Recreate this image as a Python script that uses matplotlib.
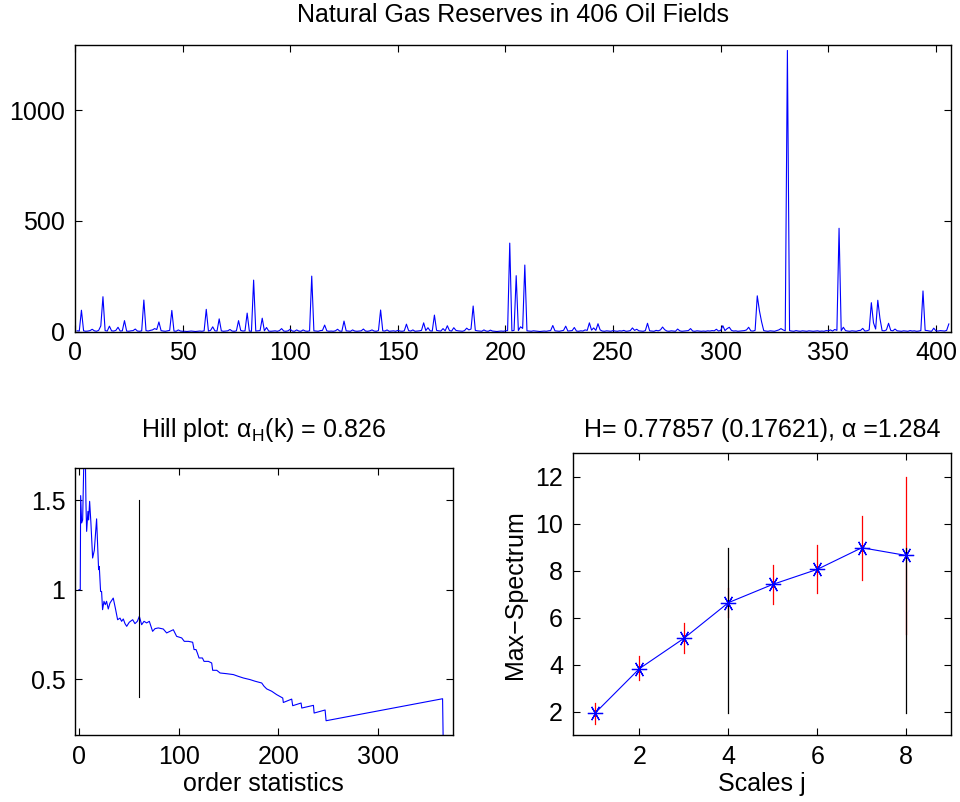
import numpy as np
import matplotlib
matplotlib.use('Agg')
import matplotlib.pyplot as plt

plt.rcParams['font.family'] = ['Liberation Sans', 'DejaVu Sans']
plt.rcParams['font.size'] = 18
plt.rcParams['axes.unicode_minus'] = True

# gas reserves of the 406 oil fields
reserves = [
    4, 3, 97, 4, 2, 3, 5, 11, 4, 2,
    6, 26, 158, 5, 3, 25, 4, 3, 6, 20,
    3, 4, 50, 3, 2, 4, 5, 12, 3, 2,
    4, 143, 5, 3, 6, 8, 14, 10, 44, 5,
    3, 2, 4, 6, 96, 3, 2, 8, 3, 2,
    2, 1, 2, 3, 2, 1, 2, 3, 2, 4,
    101, 3, 6, 22, 4, 3, 58, 4, 2, 3,
    4, 10, 3, 2, 4, 50, 6, 3, 4, 84,
    3, 2, 233, 3, 4, 5, 61, 4, 19, 3,
    2, 3, 4, 2, 5, 14, 3, 2, 4, 11,
    3, 2, 8, 3, 2, 8, 3, 2, 4, 251,
    4, 3, 2, 5, 6, 30, 4, 2, 3, 2,
    4, 11, 3, 2, 48, 4, 3, 2, 8, 3,
    2, 3, 4, 12, 3, 2, 4, 8, 3, 2,
    5, 98, 4, 3, 8, 2, 3, 4, 2, 6,
    3, 2, 4, 34, 5, 3, 8, 2, 3, 4,
    6, 40, 5, 18, 4, 3, 75, 6, 4, 3,
    14, 4, 27, 5, 3, 18, 6, 4, 3, 2,
    5, 16, 8, 12, 116, 6, 4, 3, 2, 8,
    3, 2, 7, 3, 2, 1, 2, 3, 2, 4,
    5, 400, 4, 6, 253, 5, 22, 15, 301, 4,
    3, 2, 4, 3, 2, 1, 2, 3, 2, 4,
    5, 28, 4, 3, 2, 4, 6, 25, 3, 4,
    5, 19, 3, 2, 4, 3, 8, 6, 40, 7,
    17, 6, 36, 8, 3, 2, 4, 3, 2, 5,
    3, 2, 4, 3, 6, 2, 3, 5, 17, 6,
    11, 4, 3, 2, 5, 38, 4, 3, 2, 6,
    4, 8, 21, 9, 3, 2, 4, 3, 2, 12,
    4, 2, 3, 4, 5, 14, 3, 2, 4, 3,
    2, 3, 2, 4, 3, 5, 4, 11, 3, 6,
    27, 5, 14, 20, 6, 3, 4, 2, 3, 4,
    5, 8, 20, 4, 3, 6, 162, 95, 45, 5,
    3, 2, 4, 3, 2, 5, 8, 14, 8, 4,
    1270, 5, 3, 2, 5, 3, 2, 4, 3, 2,
    4, 3, 2, 3, 4, 2, 3, 2, 5, 4,
    8, 3, 10, 6, 467, 4, 20, 5, 3, 2,
    4, 3, 2, 5, 6, 15, 3, 4, 8, 131,
    40, 12, 142, 60, 5, 4, 8, 38, 6, 4,
    12, 4, 3, 2, 4, 3, 2, 5, 3, 4,
    2, 3, 5, 184, 6, 5, 3, 2, 16, 4,
    3, 5, 4, 3, 6, 35,
]
field_no = list(range(1, len(reserves) + 1))

# Hill plot: order statistic k and Hill estimate
hill_k = [0.0, 1.3, 1.7, 2.7, 3.7, 5.0, 6.4, 7.0, 7.7, 9.0, 9.7, 10.7, 12.0, 13.7,
          15.4, 17.7, 19.7, 20.4, 21.7, 22.7, 23.7, 25.1, 26.4, 27.7, 29.4, 31.1,
          34.4, 36.5, 38.8, 41.2, 42.8, 44.5, 46.2, 47.9, 50.5, 53.9, 56.2, 58.6,
          60.6, 62.9, 65.3, 67.9, 70.6, 73.9, 76.3, 79.6, 84.6, 88.0, 91.3, 94.7,
          98.0, 103.1, 105.7, 109.8, 114.1, 115.5, 117.5, 118.8, 120.5, 123.9,
          125.5, 129.9, 133.2, 134.2, 138.3, 141.6, 148.3, 155.0, 160.0, 165.0,
          171.7, 176.7, 183.4, 185.7, 188.4, 193.4, 198.4, 204.5, 205.1, 213.5,
          214.5, 222.9, 223.6, 235.3, 236.0, 247.0, 248.0, 364.9, 365.5]
hill_alpha = [1.0, 1.0, 1.526, 1.373, 1.39, 1.75, 1.75, 1.485, 1.326, 1.438, 1.39,
              1.494, 1.373, 1.177, 1.22, 1.396, 1.112, 1.13, 0.99, 0.99, 0.888,
              0.935, 0.916, 0.935, 0.892, 0.925, 0.953, 0.897, 0.832, 0.841, 0.823,
              0.836, 0.81, 0.795, 0.818, 0.832, 0.81, 0.823, 0.851, 0.804, 0.823,
              0.814, 0.823, 0.767, 0.782, 0.786, 0.78, 0.758, 0.767, 0.776, 0.739,
              0.73, 0.711, 0.711, 0.706, 0.665, 0.665, 0.646, 0.618, 0.618, 0.599,
              0.599, 0.59, 0.549, 0.549, 0.534, 0.53, 0.525, 0.515, 0.506, 0.497,
              0.488, 0.478, 0.46, 0.445, 0.432, 0.413, 0.394, 0.369, 0.388, 0.351,
              0.366, 0.338, 0.353, 0.31, 0.327, 0.267, 0.39, 0.16]
hill_mark_k = 60
hill_mark_range = [0.4, 1.5]

# max-spectrum by scale
scales = [1, 2, 3, 4, 5, 6, 7, 8]
max_spec = [1.93, 3.83, 5.12, 6.64, 7.42, 8.06, 8.98, 8.65]
spec_lo = [1.45, 3.34, 4.51, 6.05, 6.57, 7.04, 7.60, 5.30]
spec_hi = [2.35, 4.35, 5.76, 7.25, 8.23, 9.08, 10.34, 12.0]
fit_scales = [4, 8]


def matlab_axes(ax):
    for s in ax.spines.values():
        s.set_linewidth(1.0)
    ax.tick_params(direction='in', length=5, width=0.8, top=True, right=True,
                   labelsize=18, pad=7)


fig = plt.figure(figsize=(9.6, 8.02), dpi=100)

# top panel
ax1 = fig.add_axes([0.0781, 0.5864, 0.9125, 0.3579])
ax1.plot(field_no, reserves, color='#0000ff', lw=0.8)
ax1.set_xlim(0, 407)
ax1.set_ylim(0, 1296)
ax1.set_xticks(range(0, 401, 50))
ax1.set_yticks([0, 500, 1000])
ax1.set_title('Natural Gas Reserves in 406 Oil Fields', fontsize=18, pad=16)
matlab_axes(ax1)

# Hill plot
ax2 = fig.add_axes([0.0781, 0.0835, 0.3934, 0.3333])
ax2.plot(hill_k, hill_alpha, color='#0000ff', lw=0.8)
ax2.plot([hill_mark_k, hill_mark_k], hill_mark_range, color='k', lw=0.8)
ax2.set_xlim(-4, 375)
ax2.set_ylim(0.187, 1.682)
ax2.set_xticks([0, 100, 200, 300])
ax2.set_yticks([0.5, 1, 1.5])
ax2.set_yticklabels(['0.5', '1', '1.5'])
ax2.set_xlabel('order statistics', fontsize=18, labelpad=2)
ax2.set_title(r'Hill plot: $\mathregular{α_H}$(k) = 0.826', fontsize=18, pad=22)
matlab_axes(ax2)

# max-spectrum
ax3 = fig.add_axes([0.5966, 0.0835, 0.3938, 0.3512])
for j, lo, hi in zip(scales, spec_lo, spec_hi):
    ax3.plot([j, j], [lo, hi], color='r', lw=0.9)
for j in fit_scales:
    ax3.plot([j, j], [min(max_spec), max(max_spec)], color='k', lw=0.9)
ax3.plot(scales, max_spec, color='#0000ff', lw=0.8, marker=(6, 2, 90), ms=11,
         markeredgewidth=0.9)
ax3.set_xlim(0.5, 9)
ax3.set_ylim(1, 13)
ax3.set_xticks([2, 4, 6, 8])
ax3.set_yticks([2, 4, 6, 8, 10, 12])
ax3.set_xlabel('Scales j', fontsize=18, labelpad=2)
ax3.set_ylabel('Max\u2212Spectrum', fontsize=18, labelpad=6)
ax3.set_title('H= 0.77857 (0.17621), α =1.284', fontsize=18, pad=12)
matlab_axes(ax3)

fig.savefig('out.png', dpi=100)
